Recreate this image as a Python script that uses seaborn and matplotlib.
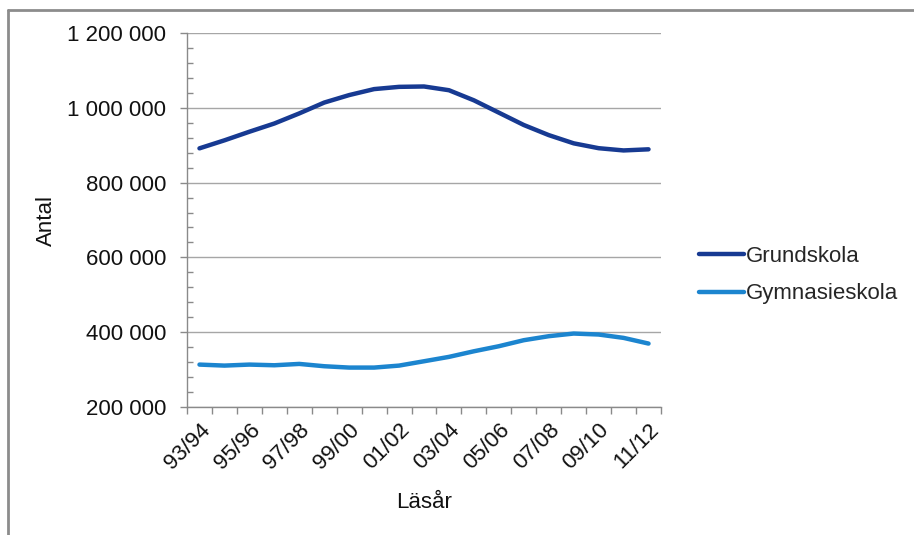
import numpy as np
import pandas as pd
import matplotlib
matplotlib.use("Agg")
import matplotlib.pyplot as plt
from matplotlib.ticker import FixedLocator, FuncFormatter, MultipleLocator
from matplotlib.lines import Line2D
import seaborn as sns

# School years 1993/94 - 2011/12
years = ["93/94", "94/95", "95/96", "96/97", "97/98", "98/99", "99/00", "00/01",
         "01/02", "02/03", "03/04", "04/05", "05/06", "06/07", "07/08", "08/09",
         "09/10", "10/11", "11/12"]

grundskola = [891600, 913000, 936000, 958000, 985000, 1014000, 1034000, 1050000,
              1056000, 1057000, 1047000, 1020000, 987000, 954000, 927000, 905000,
              892000, 886000, 889000]

gymnasieskola = [313400, 310700, 313400, 311600, 315200, 309000, 305400, 305400,
                 310700, 322300, 334000, 349000, 362500, 378600, 389300, 396400,
                 393800, 384800, 369600]

series_names = ["Grundskola", "Gymnasieskola"]
colors = ["#173a92", "#1c85cf"]

df = pd.DataFrame({
    "idx": list(range(len(years))) * 2,
    "Antal": grundskola + gymnasieskola,
    "Skolform": [series_names[0]] * len(years) + [series_names[1]] * len(years),
})

sns.set_theme(style="white")
plt.rcParams["font.family"] = ["Liberation Sans", "DejaVu Sans"]

fig = plt.figure(figsize=(9.14, 5.35), dpi=100)
ax = fig.add_axes([187 / 914, 1 - 407 / 535, (661 - 187) / 914, (407 - 33) / 535])

sns.lineplot(data=df, x="idx", y="Antal", hue="Skolform",
             palette=dict(zip(series_names, colors)), linewidth=3.2,
             ax=ax, legend=False, sort=False)

n = len(years)
ax.set_xlim(-0.5, n - 0.5)
ax.set_ylim(200000, 1200000)

text_color = "#111111"
tick_size = 16

# y axis: major every 200 000, minor every 40 000 pointing inward
ax.yaxis.set_major_locator(MultipleLocator(200000))
ax.yaxis.set_minor_locator(MultipleLocator(40000))
ax.yaxis.set_major_formatter(FuncFormatter(lambda v, p: f"{int(v):,}".replace(",", " ")))
ax.tick_params(axis="y", which="both", left=True)
ax.tick_params(axis="y", which="major", direction="out", length=5, width=1,
               color="#8a8a8a", labelsize=tick_size, labelcolor=text_color, pad=10)
ax.tick_params(axis="y", which="minor", direction="in", length=4, width=1,
               color="#8a8a8a")

# x axis: ticks at category boundaries, labels at every second category centre
ax.xaxis.set_major_locator(FixedLocator(np.arange(-0.5, n, 1.0)))
ax.xaxis.set_major_formatter(FuncFormatter(lambda v, p: ""))
label_pos = list(range(0, n, 2))
ax.set_xticks(label_pos, minor=True)
ax.set_xticklabels([years[i] for i in label_pos], minor=True, rotation=45,
                   ha="right", va="top", rotation_mode="anchor")
ax.tick_params(axis="x", which="major", bottom=True, direction="out", length=5,
               width=1, color="#8a8a8a")
ax.tick_params(axis="x", which="minor", bottom=True, length=0,
               labelsize=tick_size, labelcolor=text_color, pad=9)

ax.grid(axis="y", which="major", color="#a6a6a6", linewidth=1)
ax.grid(axis="x", visible=False)
ax.set_axisbelow(True)

for side in ["top", "right"]:
    ax.spines[side].set_visible(False)
for side in ["left", "bottom"]:
    ax.spines[side].set_color("#8a8a8a")
    ax.spines[side].set_linewidth(1)

ax.set_xlabel("Läsår", fontsize=tick_size, color=text_color, labelpad=13)
ax.set_ylabel("Antal", fontsize=tick_size, color=text_color, labelpad=7)

handles = [Line2D([0], [0], color=c, linewidth=3.2) for c in colors]
fig.legend(handles, series_names, loc="center left",
           bbox_to_anchor=(0.743, 0.486), frameon=False, fontsize=tick_size,
           handlelength=2.0, handletextpad=0.1, labelspacing=0.75)

# thin frame along the top and left edges of the picture
fig.add_artist(Line2D([8 / 914, 1.0], [1 - 10 / 535, 1 - 10 / 535],
                      transform=fig.transFigure, color="#8c8c8c", linewidth=2))
fig.add_artist(Line2D([8 / 914, 8 / 914], [0.0, 1 - 10 / 535],
                      transform=fig.transFigure, color="#8c8c8c", linewidth=2))

fig.savefig("out.png", dpi=100, facecolor="white")
